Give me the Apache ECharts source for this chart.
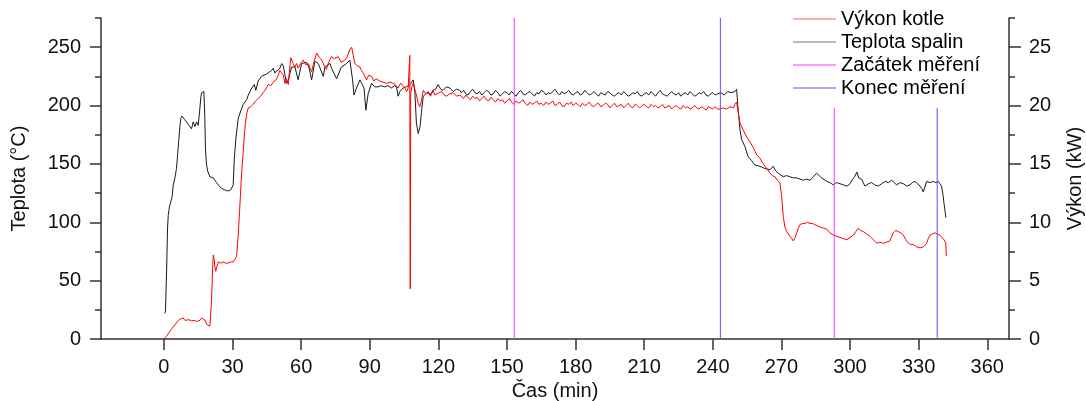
<!DOCTYPE html>
<html>
<head>
<meta charset="utf-8">
<script src="https://cdn.jsdelivr.net/npm/echarts@6/dist/echarts.min.js"></script>
<style>html,body{margin:0;padding:0;background:#fff}#c{width:1086px;height:401px}</style>
</head>
<body>
<div id="c"></div>
<script>
// ---- DATA ----
const xTicks = [0, 30, 60, 90, 120, 150, 180, 210, 240, 270, 300, 330, 360];
const tempTicks = [0, 50, 100, 150, 200, 250];
const tempMinorTicks = [25, 75, 125, 175, 225, 275];
const powerTicks = [0, 5, 10, 15, 20, 25];
const powerMinorTicks = [2.5, 7.5, 12.5, 17.5, 22.5, 27.5];

// Teplota spalin [min, °C]
const teplotaSpalin = [
[0.4,22],[0.7,24],[1.2,60],[1.6,95],[1.9,106],[2.4,113],[3.1,114],[3.6,122],[4.1,132],[4.8,138],[5.5,146],[6.0,158],[6.5,170],[7.0,182],[7.4,189],[8.0,191],[8.4,190],[9.0,188],[9.9,186],[10.6,184],[11.4,183],[12.1,180],[12.8,186],[13.6,182],[14.3,186],[15.0,183],[15.7,197],[16.2,208],[16.5,211],[17.5,212],[17.9,189],[18.2,161],[18.6,150],[19.1,144],[20.1,139],[21.6,138],[23.0,134],[24.2,131],[25.2,129],[26.3,128],[27.4,127],[28.4,127],[29.3,128],[30.3,132],[30.8,155],[31.5,172],[32.5,189],[33.7,196],[34.7,201],[36.2,205],[36.9,209],[38.4,215],[39.5,218],[40.2,213],[41.2,221],[42.7,225],[44.9,227],[47.1,230],[47.8,232],[48.5,228],[50.7,232],[51.5,236],[52.2,234],[53.6,219],[54.4,222],[55.8,233],[57.3,233],[58.7,222],[60.2,236],[62.4,237],[63.4,233],[64.6,222],[66.0,238],[67.5,236],[68.3,237],[69.7,225],[70.4,233],[72.6,236],[73.3,232],[75.5,223],[77.6,233],[79.9,236],[81.3,239],[82.5,222],[83.1,209],[84.2,215],[85.7,222],[87.5,215],[88.3,196],[89.3,210],[90.8,219],[92.2,216],[93.6,216],[95.0,217],[96.5,216],[98.0,217],[99.5,215],[100.8,217],[101.7,216],[102.4,208],[103.2,212],[104.6,215],[106.0,216],[107.6,218],[109.0,222],[109.7,212],[110.4,185],[111.2,176],[112.0,182],[112.6,194],[113.4,208],[114.5,210],[115.6,212],[116.5,209],[117.7,213],[118.8,214],[119.9,218],[121.0,214],[122.1,213],[123.5,216],[125.0,215],[126.5,212],[128.0,214],[129.4,213],
[130,211],[131,213],[132,210],[133,209],[134,212],[135,214],[136,211],[137,210],[138,212],[139,209],[140,211],[141,213],[142,212],[143,209],[144,210],[145,213],[146,211],[147,208],[148,210],[149,212],[150,211],[151,209],[152,212],[153,210],[154,208],[155,211],[156,213],[157,210],[158,209],[159,211],[160,212],[161,210],[162,208],[163,211],[164,210],[165,213],[166,212],[167,209],[168,211],[169,210],[170,212],[171,214],[172,211],[173,209],[174,212],[175,210],[176,211],[177,213],[178,210],[179,209],[180,211],[181,212],[182,209],[183,210],[184,213],[185,211],[186,209],[187,210],[188,212],[189,210],[190,208],[191,211],[192,210],[193,209],[194,212],[195,211],[196,209],[197,208],[198,210],[199,211],[200,209],[201,212],[202,210],[203,208],[204,209],[205,211],[206,210],[207,212],[208,209],[209,208],[210,210],[211,211],[212,209],[213,212],[214,210],[215,208],[216,211],[217,213],[218,210],[219,209],[220,208],[221,210],[222,212],[223,210],[224,209],[225,211],[226,208],[227,210],[228,211],[229,209],[230,212],[231,210],[232,208],[233,209],[234,211],[235,210],[236,212],[237,209],[238,208],[239,210],[240,211],[241,209],[242,210],[243.5,211],[245,209],[246.5,212],[248,211],[249.7,212],[250.4,214],
[251.1,196],[251.9,179],[252.6,171],[254.0,165],[255.5,156],[256.9,153],[258.4,149],[260.6,148],[262.8,146],[265.0,145],[266.4,148],[267.5,144],[268.6,142],[270.8,139],[272.2,140],[273.7,139],[275.2,138],[276.7,138],[278.1,137],[279.6,136],[281.0,137],[282.5,136],[284.0,139],[285.4,142],[286.5,140],[287.6,138],[289.8,135],[291.2,134],[292.7,132],[294.1,134],[295.6,133],[297.1,132],[298.6,131],[300.0,133],[300.8,136],[302.0,139],[303.0,143],[303.8,138],[305.0,137],[306.5,131],[308.0,133],[309.4,134],[310.8,132],[312.3,131],[313.8,133],[315.3,135],[316.8,134],[318.2,136],[319.3,134],[320.4,132],[321.8,134],[323.3,133],[324.8,131],[326.2,132],[327.3,134],[328.4,135],[329.5,133],[330.6,131],[331.3,129],[332.0,126],[333.5,135],[335.0,134],[336.4,135],[337.5,134],[338.6,135],[339.3,133],[340.0,131],[340.6,124],[341.1,116],[341.5,110],[341.9,104]
];

// Výkon kotle [min, kW]
const vykonKotle = [
[0,0],[1.0,0.2],[2.6,0.65],[3.5,0.9],[4.8,1.2],[6.0,1.5],[7.0,1.7],[8.4,1.8],[9.2,1.6],[9.9,1.5],[11.0,1.65],[12.1,1.55],[13.2,1.6],[14.3,1.5],[15.0,1.65],[15.7,1.6],[16.5,1.8],[17.2,1.95],[18.0,1.6],[18.7,1.25],[19.4,1.1],[20.1,1.1],[20.8,3.2],[21.3,6.0],[21.6,7.2],[22.0,6.8],[22.3,6.2],[22.7,5.8],[23.0,6.1],[23.8,6.6],[24.8,6.5],[25.9,6.6],[27.0,6.5],[28.1,6.5],[29.2,6.6],[30.3,6.6],[31.0,6.8],[31.8,7.1],[32.5,8.9],[33.1,11],[33.7,13.2],[34.2,14.8],[34.7,16.1],[35.2,17.5],[35.7,18.6],[36.3,19.4],[36.9,19.8],[38.0,19.9],[39.0,20.1],[40.1,20.4],[41.2,20.6],[42.3,20.8],[43.4,21.1],[44.5,21.4],[45.6,21.8],[46.7,21.7],[47.8,22.0],[49.0,22.2],[50.0,22.6],[50.7,23.0],[51.5,22.9],[52.2,22.6],[52.9,21.9],[53.6,22.3],[54.4,21.8],[55.0,23.2],[55.5,24.1],[55.8,24.2],[56.5,23.6],[57.3,23.3],[58.0,23.6],[58.7,23.2],[59.8,23.6],[60.9,23.9],[62.0,23.5],[63.1,23.6],[63.8,23.6],[64.6,22.9],[65.7,23.8],[66.8,24.5],[68.0,24.1],[69.0,23.9],[70.4,23.3],[71.1,23.1],[72.0,23.7],[73.3,24.2],[74.5,24.0],[76.2,24.2],[77.5,23.7],[79.1,23.9],[80.0,24.1],[81.3,24.8],[82.1,25.0],[82.8,24.3],[83.5,23.6],[84.6,23.4],[85.7,23.3],[86.4,23.0],[87.1,22.8],[88.6,22.2],[89.6,22.6],[90.8,22.5],[91.8,22.1],[92.8,22.3],[94.4,22.1],[95.8,22.0],[97.4,21.9],[98.8,22.0],[100.3,21.9],[101.2,21.8],[102.4,21.5],[103.5,21.9],[104.6,21.7],[105.4,21.5],[106.1,21.2],[106.8,21.5],[107.3,21.6],[107.5,24.3],[107.7,4.3],[107.9,21.0],[108.4,21.6],[109.0,21.9],[109.7,21.4],[110.4,20.9],[111.2,20.2],[111.9,19.9],[112.6,20.4],[113.4,21.3],[114.5,21.0],[115.6,21.1],[116.6,20.8],[117.7,21.3],[118.5,20.9],[119.2,20.8],[120.3,21.1],[121.4,21.2],[122.5,20.9],[123.6,20.8],[124.8,21.0],[126.5,21.1],[128.0,20.8],[129.4,20.9],
[130,20.8],[131,20.6],[132,20.9],[133,20.7],[134,20.5],[135,20.8],[136,20.6],[137,20.7],[138,20.4],[139,20.6],[140,20.8],[141,20.5],[142,20.4],[143,20.7],[144,20.5],[145,20.3],[146,20.6],[147,20.4],[148,20.5],[149,20.2],[150,20.4],[151,20.6],[152,20.3],[153,20.1],[154,20.4],[155,20.2],[156,20.3],[157,20.5],[158,20.2],[159,20.0],[160,20.3],[161,20.1],[162,20.2],[163,20.4],[164,20.1],[165,20.2],[166,20.0],[167,20.3],[168,20.1],[169,20.2],[170,20.4],[171,20.0],[172,20.1],[173,20.3],[174,20.0],[175,19.9],[176,20.2],[177,20.1],[178,20.3],[179,20.0],[180,20.2],[181,20.1],[182,19.9],[183,20.2],[184,20.0],[185,20.1],[186,20.3],[187,20.0],[188,19.9],[189,20.1],[190,20.2],[191,19.9],[192,20.0],[193,20.2],[194,20.1],[195,19.8],[196,20.0],[197,20.2],[198,19.9],[199,20.0],[200,20.1],[201,19.8],[202,20.0],[203,20.2],[204,19.9],[205,19.8],[206,20.1],[207,20.0],[208,19.8],[209,20.0],[210,20.1],[211,19.9],[212,19.8],[213,20.1],[214,19.9],[215,20.0],[216,19.8],[217,19.9],[218,20.1],[219,19.8],[220,19.9],[221,20.0],[222,19.7],[223,19.9],[224,20.0],[225,19.8],[226,19.7],[227,20.0],[228,19.8],[229,19.9],[230,19.7],[231,19.8],[232,20.0],[233,19.8],[234,19.7],[235,19.9],[236,19.8],[237,19.6],[238,19.9],[239,19.8],[240,19.7],[241,19.9],[242,19.7],[243.1,19.7],[244.5,19.8],[246,19.7],[247.5,19.9],[249,19.8],[249.7,20.1],[250.4,20.3],
[251.1,19.4],[251.9,18.5],[253.3,17.9],[254.8,17.3],[256.2,16.9],[257.7,16.4],[259.1,15.8],[260.6,15.5],[261.7,15.1],[262.8,14.8],[264.0,14.5],[265.0,14.2],[266.1,14.0],[267.2,13.9],[268.2,13.6],[269.3,13.4],[270.1,12.2],[270.8,10.5],[271.5,9.6],[272.3,9.2],[273.0,9.0],[273.7,8.8],[274.5,8.6],[275.2,8.4],[276.0,8.7],[276.7,9.1],[277.4,9.5],[278.1,9.8],[279.2,9.9],[280.3,9.9],[281.4,10.0],[282.5,9.9],[283.5,9.9],[284.6,9.8],[285.7,9.7],[286.8,9.6],[288.3,9.5],[289.8,9.4],[291.2,9.1],[292.7,8.9],[294.1,8.8],[295.6,8.7],[297.1,8.6],[298.6,8.5],[300.0,8.7],[301.5,8.9],[302.5,9.2],[303.6,9.5],[304.7,9.3],[305.8,9.2],[307.2,9.0],[308.7,8.8],[310.2,8.5],[311.7,8.2],[313.1,8.3],[314.6,8.2],[316.0,8.3],[317.4,8.4],[318.2,8.8],[318.9,9.1],[320.0,9.3],[321.1,9.2],[322.2,9.1],[323.3,8.9],[324.4,8.5],[325.5,8.2],[326.5,8.1],[327.6,8.1],[329.1,7.9],[330.6,7.8],[331.3,7.9],[332.1,7.9],[333.5,8.2],[334.2,8.6],[335.0,8.9],[336.1,9.0],[337.2,9.1],[338.2,9.0],[339.3,8.9],[340.2,8.7],[341.1,8.5],[341.9,8.2],[342.1,7.1]
];

// markers [min, top °C]
const zacatekMereni = [[153.2, 275], [293.1, 198]];
const konecMereni = [[243.3, 275], [338.1, 198]];

// ---- CHART ----
const FONT = '"Liberation Sans", Arial, sans-serif';
const axisCol = '#333';
const textCol = '#111';

function markerSeries(name, color, m) {
  return {
    name: name, type: 'line', yAxisIndex: 0, symbol: 'none', silent: true,
    lineStyle: { color: color, width: 1 }, itemStyle: { color: color },
    data: [[m[0], 0], [m[0], m[1]]]
  };
}

const chart = echarts.init(document.getElementById('c'), null, { renderer: 'canvas' });
chart.setOption({
  animation: false,
  backgroundColor: '#fff',
  textStyle: { fontFamily: FONT },
  grid: { left: 101, right: 77, top: 18, bottom: 62, containLabel: false, outerBoundsMode: 'none' },
  legend: {
    orient: 'vertical', left: 793, top: 9, padding: 0, itemWidth: 43, itemHeight: 1, itemGap: 3,
    icon: 'rect',
    textStyle: { fontSize: 20, color: '#000', fontFamily: FONT },
    data: ['Výkon kotle', 'Teplota spalin', 'Začátek měření', 'Konec měření']
  },
  xAxis: {
    type: 'value', min: -27.5, max: 369.5,
    name: 'Čas (min)', nameLocation: 'middle', nameGap: 42,
    nameTextStyle: { fontSize: 20, color: textCol, fontFamily: FONT },
    axisLine: { show: true, onZero: false, lineStyle: { color: axisCol, width: 1.5 } },
    axisTick: { show: true, inside: false, length: 11, customValues: xTicks, lineStyle: { color: axisCol, width: 1.5 } },
    axisLabel: { show: true, margin: 18, fontSize: 20, color: textCol, fontFamily: FONT, customValues: xTicks },
    splitLine: { show: false }
  },
  yAxis: [
    {
      type: 'value', position: 'left', min: 0, max: 275,
      name: 'Teplota (°C)', nameLocation: 'middle', nameRotate: 90, nameGap: 72,
      nameTextStyle: { fontSize: 20, color: textCol, fontFamily: FONT },
      axisLine: { show: true, onZero: false, lineStyle: { color: axisCol, width: 1.5 } },
      axisTick: { show: true, inside: false, length: 11, customValues: tempTicks, lineStyle: { color: axisCol, width: 1.5 } },
      axisLabel: { show: true, margin: 20, fontSize: 20, color: textCol, fontFamily: FONT, customValues: tempTicks },
      splitLine: { show: false }
    },
    {
      type: 'value', position: 'right', min: 0, max: 27.5,
      name: 'Výkon (kW)', nameLocation: 'middle', nameRotate: 90, nameGap: 56,
      nameTextStyle: { fontSize: 20, color: textCol, fontFamily: FONT },
      axisLine: { show: true, onZero: false, lineStyle: { color: axisCol, width: 1.5 } },
      axisTick: { show: true, inside: false, length: 12, customValues: powerTicks, lineStyle: { color: axisCol, width: 1.5 } },
      axisLabel: { show: true, margin: 20, fontSize: 20, color: textCol, fontFamily: FONT, customValues: powerTicks },
      splitLine: { show: false }
    },
    {
      type: 'value', position: 'left', min: 0, max: 275,
      axisLine: { show: false, onZero: false },
      axisTick: { show: true, inside: false, length: 6, customValues: tempMinorTicks, lineStyle: { color: axisCol, width: 1.5 } },
      axisLabel: { show: false }, splitLine: { show: false }
    },
    {
      type: 'value', position: 'right', min: 0, max: 27.5,
      axisLine: { show: false, onZero: false },
      axisTick: { show: true, inside: false, length: 6, customValues: powerMinorTicks, lineStyle: { color: axisCol, width: 1.5 } },
      axisLabel: { show: false }, splitLine: { show: false }
    }
  ],
  series: [
    {
      name: 'Výkon kotle', type: 'line', yAxisIndex: 1, symbol: 'none',
      lineStyle: { color: '#ff0000', width: 1 }, itemStyle: { color: '#ff6666' },
      data: vykonKotle, z: 3
    },
    {
      name: 'Teplota spalin', type: 'line', yAxisIndex: 0, symbol: 'none',
      lineStyle: { color: '#1a1a1a', width: 1 }, itemStyle: { color: '#777777' },
      data: teplotaSpalin, z: 2
    },
    markerSeries('Začátek měření', '#ff33ff', zacatekMereni[0]),
    markerSeries('Začátek měření', '#ff33ff', zacatekMereni[1]),
    markerSeries('Konec měření', '#5555ff', konecMereni[0]),
    markerSeries('Konec měření', '#5555ff', konecMereni[1])
  ]
});
</script>
</body>
</html>
